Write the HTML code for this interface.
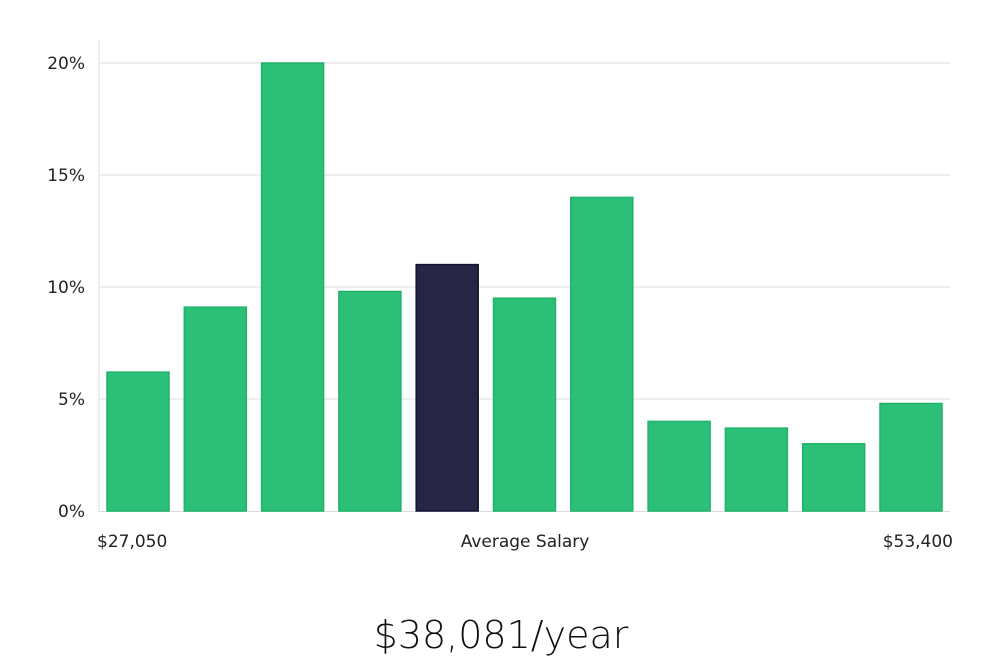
<!DOCTYPE html>
<html><head><meta charset="utf-8"><style>
body{margin:0;background:#fff;width:1000px;height:660px;overflow:hidden}
svg text{font-family:"DejaVu Sans","Liberation Sans",sans-serif}
</style></head><body>
<svg id="chart" width="1000" height="660" xmlns="http://www.w3.org/2000/svg"></svg>
<script>
const categories=["b1","b2","b3","b4","b5","b6","b7","b8","b9","b10","b11"];
const values=[6.2,9.1,20,9.8,11,9.5,14,4,3.7,3,4.8];
const highlightIndex=4;
const yTicks=[0,5,10,15,20];
const yTickLabels=["0%","5%","10%","15%","20%"];
const svg=document.getElementById('chart');
const NS="http://www.w3.org/2000/svg";
const y0=511,pxPer=22.4,left=99,right=950,x0=107,step=77.3,bw=62;
const yScale=v=>y0-v*pxPer;
const xScale=i=>x0+i*step;
function mk(t,a){const e=document.createElementNS(NS,t);for(const k in a)e.setAttribute(k,a[k]);svg.appendChild(e);return e;}
yTicks.forEach((t,i)=>{
 if(t>0){const g=mk('line',{x1:left,x2:right,y1:yScale(t),y2:yScale(t),stroke:'#dcdcdc','stroke-width':1});
 
 }
 const l=mk('text',{x:85,y:yScale(t)+6,'text-anchor':'end','font-size':17,fill:'#222'});
 l.textContent=yTickLabels[i];
 
 
});
const ax=mk('line',{x1:left,x2:left,y1:40,y2:y0,stroke:'#dcdcdc','stroke-width':1});


const bx=mk('line',{x1:left,x2:right,y1:y0+0.5,y2:y0+0.5,stroke:'#dcdcdc','stroke-width':1});


values.forEach((v,i)=>{
 const hi=i===highlightIndex;
 const r=mk('rect',{x:xScale(i),y:yScale(v),width:bw,height:v*pxPer,fill:hi?'#272546':'#2bbf77',stroke:hi?'#14122e':'#20b46a','stroke-width':1.5});
 
 
});
[["$27,050",97,'start','x-min-label'],["Average Salary",525,'middle','x-center-label'],["$53,400",953,'end','x-max-label']].forEach(([t,x,a,n])=>{
 const e=mk('text',{x:x,y:547,'text-anchor':a,'font-size':17,fill:'#222'});
 e.textContent=t;
 
 
});
const tt=mk('text',{x:501,y:648,'text-anchor':'middle','font-size':38,fill:'#111','font-weight':300});
tt.textContent="$38,081/year";


</script>
</body></html>
